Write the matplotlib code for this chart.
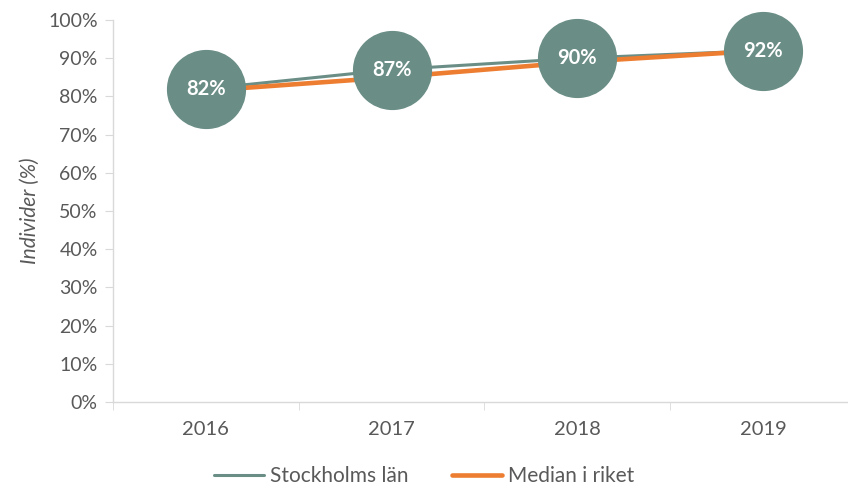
import matplotlib.pyplot as plt

years = ["2016", "2017", "2018", "2019"]
stockholm = [82, 87, 90, 92]
median_riket = [81.5, 85, 89, 92]
point_labels = ["82%", "87%", "90%", "92%"]
y_ticks = [0, 10, 20, 30, 40, 50, 60, 70, 80, 90, 100]

teal = "#6A8E86"
orange = "#ED7D31"
grey_text = "#595959"
axis_grey = "#D9D9D9"

plt.rcParams["font.family"] = ["Lato", "DejaVu Sans"]

fig = plt.figure(figsize=(8.48, 4.88), dpi=100)
ax = fig.add_axes([113 / 848, 1 - 402 / 488, 743 / 848, 382 / 488])

x = list(range(len(years)))
ax.plot(x, stockholm, color=teal, lw=2.2, zorder=2, label="Stockholms län",
        solid_capstyle="round")
ax.plot(x, median_riket, color=orange, lw=3.3, zorder=3, label="Median i riket",
        solid_capstyle="round")
ax.plot(x, stockholm, ls="none", marker="o", ms=56, mfc=teal, mec=teal, zorder=4,
        clip_on=False)
for xi, yi, txt in zip(x, stockholm, point_labels):
    ax.text(xi, yi, txt, color="white", fontsize=14.5, fontweight="bold",
            ha="center", va="center", zorder=5)

ax.set_xlim(-0.5, 3.5)
ax.set_ylim(0, 100)
ax.set_yticks(y_ticks)
ax.set_yticklabels([f"{v}%" for v in y_ticks])
ax.set_xticks(x)
ax.set_xticklabels(years)
ax.set_xticks([-0.5, 0.5, 1.5, 2.5], minor=True)

for side in ["top", "right"]:
    ax.spines[side].set_visible(False)
for side in ["left", "bottom"]:
    ax.spines[side].set_color(axis_grey)
    ax.spines[side].set_linewidth(1)

ax.tick_params(axis="y", colors=grey_text, labelsize=14, length=6, color=axis_grey, pad=5)
ax.tick_params(axis="x", which="major", colors=grey_text, labelsize=14.5, length=0, pad=14)
ax.tick_params(axis="x", which="minor", length=6, color=axis_grey)
ax.set_ylabel("Individer (%)", fontsize=15, color=grey_text, style="italic", labelpad=6)

leg = fig.legend(loc="lower center", bbox_to_anchor=(0.5, -0.035), ncol=2, frameon=False,
                 fontsize=15, handlelength=2.4, columnspacing=2.1, handletextpad=0.3)
for t in leg.get_texts():
    t.set_color(grey_text)

fig.savefig("out.png", dpi=100)
